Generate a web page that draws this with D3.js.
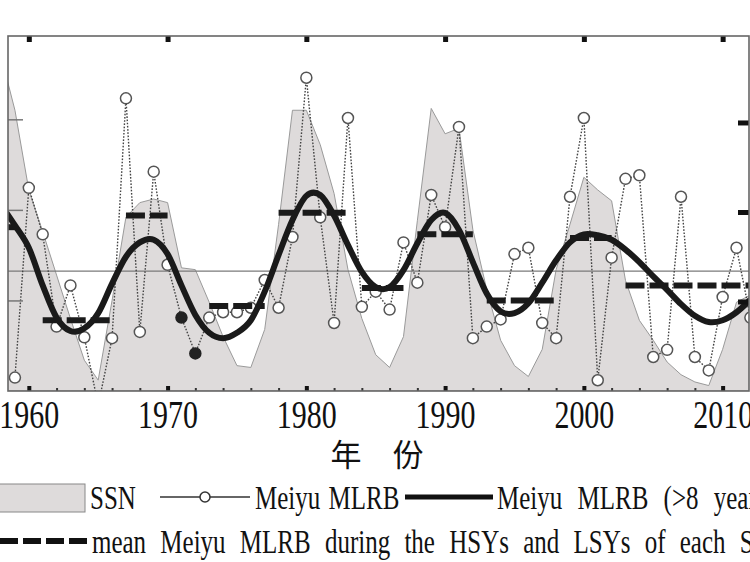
<!DOCTYPE html>
<html>
<head>
<meta charset="utf-8">
<script src="https://cdn.jsdelivr.net/npm/d3@7"></script>
<style>
body { margin: 0; background: #fff; }
</style>
</head>
<body>
<div id="chart"></div>
<script>
// sunspot number, 1958-2012
var ssnYears = d3.range(1958, 2013);
var ssn = [185, 155, 111, 88, 64, 40, 17, 6, 50, 96,
    104, 106, 104, 68, 67, 49, 30, 14, 13, 34,
    92, 155, 155, 136, 109, 67, 40, 20, 13, 30,
    94, 156, 142, 145, 89, 56, 28, 14, 8, 23,
    67, 92, 118, 111, 105, 61, 39, 28, 16, 9,
    5, 3, 23, 49, 53];

// Meiyu MLRB, 1959-2012
var mlrbYears = d3.range(1959, 2013);
var mlrb = [1.5, 22.7, 17.5, 7.2, 11.8, 6.0, -1.6, 5.9, 32.7, 6.6,
    24.5, 14.1, 8.2, 4.2, 8.2, 8.8, 8.8, 9.3, 12.4, 9.3,
    17.2, 35.0, 19.4, 7.6, 30.5, 9.4, 11.1, 9.1, 16.6, 12.1,
    21.9, 18.3, 29.5, 5.9, 7.2, 8.0, 15.3, 16.0, 7.6, 5.9,
    21.7, 30.5, 1.2, 14.9, 23.7, 24.1, 3.8, 4.6, 21.7, 3.8,
    2.3, 10.5, 16.0, 8.2];
var filledYears = [1971, 1972];

// Meiyu MLRB (>8 years), 1958-2012
var smoothYears = d3.range(1958, 2013);
var smooth = [20.8, 18.5, 16.0, 11.8, 8.2, 6.7, 7.0, 8.7, 12.0, 15.0,
    16.6, 16.9, 15.3, 11.8, 8.5, 6.5, 5.9, 6.5, 7.9, 11.1,
    15.2, 19.1, 21.8, 21.9, 19.6, 16.3, 13.3, 11.6, 11.6, 13.5,
    16.5, 19.1, 19.9, 18.0, 14.4, 10.9, 8.9, 8.7, 9.8, 12.1,
    14.6, 16.6, 17.5, 17.4, 16.9, 15.8, 14.4, 12.8, 11.3, 9.7,
    8.4, 7.7, 7.9, 8.8, 10.2];

// mean MLRB in HSYs / LSYs of each solar cycle
var segStart = [1958, 1961, 1967, 1973, 1978, 1984, 1988, 1993, 1999, 2003];
var segEnd = [1959, 1966, 1970, 1977, 1983, 1987, 1992, 1998, 2002, 2012];
var segValue = [18.3, 7.9, 19.6, 9.5, 19.9, 11.5, 17.5, 10.1, 17.1, 11.8];
var meanAll = 13.4;

var decades = [1960, 1970, 1980, 1990, 2000, 2010];
var minorYears = d3.range(1960, 2012, 2);

(function() {
    var W = 750, H = 562;
    var pl = 8, pr = 749, pt = 36, pb = 391;
    var serif = "'Liberation Serif', 'Times New Roman', serif";
    var areaFill = "#dedbdb";

    var svg = d3.select("#chart").append("svg")
        .attr("width", W)
        .attr("height", H);

    var x = d3.scaleLinear().domain([1958.5, 2011.9]).range([pl, pr]);
    var yM = d3.scaleLinear().domain([0, 39.66]).range([pb, pt]);
    var yS = d3.scaleLinear().domain([0, 196]).range([pb, pt]);

    svg.append("clipPath").attr("id", "plot")
        .append("rect")
        .attr("x", pl).attr("y", pt)
        .attr("width", pr - pl).attr("height", pb - pt);

    var g = svg.append("g").attr("clip-path", "url(#plot)");

    var ssnData = ssnYears.map(function(d, i) { return {year: d, v: ssn[i]}; });
    var mlrbData = mlrbYears.map(function(d, i) { return {year: d, v: mlrb[i]}; });
    var smoothData = smoothYears.map(function(d, i) { return {year: d, v: smooth[i]}; });

    // SSN area
    g.append("path")
        .datum(ssnData)
        .attr("fill", areaFill)
        .attr("stroke", "#9a9a9a")
        .attr("stroke-width", 1)
        .attr("d", d3.area()
            .x(function(d) { return x(d.year); })
            .y0(pb)
            .y1(function(d) { return yS(d.v); }));

    // overall mean
    g.append("line")
        .attr("x1", pl).attr("x2", pr)
        .attr("y1", yM(meanAll)).attr("y2", yM(meanAll))
        .attr("stroke", "#7a7a7a")
        .attr("stroke-width", 1.2);

    // Meiyu MLRB dotted line
    g.append("path")
        .datum(mlrbData)
        .attr("fill", "none")
        .attr("stroke", "#444")
        .attr("stroke-width", 1.4)
        .attr("stroke-dasharray", "1.6,1.6")
        .attr("d", d3.line()
            .x(function(d) { return x(d.year); })
            .y(function(d) { return yM(d.v); }));

    g.selectAll("circle.mlrb")
        .data(mlrbData)
        .enter().append("circle")
        .attr("class", "mlrb")
        .attr("cx", function(d) { return x(d.year); })
        .attr("cy", function(d) { return yM(d.v); })
        .attr("r", 5.5)
        .attr("fill", function(d) { return filledYears.indexOf(d.year) >= 0 ? "#222" : "#fff"; })
        .attr("stroke", function(d) { return filledYears.indexOf(d.year) >= 0 ? "#222" : "#555"; })
        .attr("stroke-width", 1.5);

    // mean dashes
    g.selectAll("line.seg")
        .data(segValue)
        .enter().append("line")
        .attr("class", "seg")
        .attr("x1", function(d, i) { return x(segStart[i]); })
        .attr("x2", function(d, i) { return x(segEnd[i]); })
        .attr("y1", function(d) { return yM(d); })
        .attr("y2", function(d) { return yM(d); })
        .attr("stroke", "#1a1a1a")
        .attr("stroke-width", 6)
        .attr("stroke-dasharray", "19,5");

    // >8 years filtered line
    g.append("path")
        .datum(smoothData)
        .attr("fill", "none")
        .attr("stroke", "#1a1a1a")
        .attr("stroke-width", 6)
        .attr("stroke-linejoin", "round")
        .attr("d", d3.line()
            .curve(d3.curveCardinal)
            .x(function(d) { return x(d.year); })
            .y(function(d) { return yM(d.v); }));

    // axes
    var bottomMinor = svg.append("g")
        .attr("transform", "translate(0," + pb + ")")
        .call(d3.axisBottom(x).tickValues(minorYears).tickSize(-3).tickFormat(""));
    bottomMinor.select(".domain").remove();
    bottomMinor.selectAll("line").attr("stroke", "#333").attr("stroke-width", 2);

    var bottomAxis = svg.append("g")
        .attr("transform", "translate(0," + pb + ")")
        .call(d3.axisBottom(x).tickValues(decades).tickSize(-5).tickFormat(d3.format("d")));
    bottomAxis.select(".domain").remove();
    bottomAxis.selectAll("line").attr("stroke", "#111").attr("stroke-width", 4);
    bottomAxis.selectAll("text")
        .attr("y", 0)
        .attr("dy", null)
        .attr("transform", "translate(0,37) scale(1,1.32)")
        .attr("fill", "#111")
        .style("font-family", serif)
        .style("font-size", "30px");

    var topAxis = svg.append("g")
        .attr("transform", "translate(0," + pt + ")")
        .call(d3.axisTop(x).tickValues(decades).tickSize(-6).tickFormat(""));
    topAxis.select(".domain").remove();
    topAxis.selectAll("line").attr("stroke", "#111").attr("stroke-width", 5);

    var leftAxis = svg.append("g")
        .attr("transform", "translate(" + pl + ",0)")
        .call(d3.axisLeft(yS).tickValues([50, 100, 150]).tickSize(-15).tickFormat(""));
    leftAxis.select(".domain").remove();
    leftAxis.selectAll("line").attr("stroke", "#777").attr("stroke-width", 1.5);

    var rightAxis = svg.append("g")
        .attr("transform", "translate(" + pr + ",0)")
        .call(d3.axisRight(yM).tickValues([10, 20, 30]).tickSize(-11).tickFormat(""));
    rightAxis.select(".domain").remove();
    rightAxis.selectAll("line").attr("stroke", "#111").attr("stroke-width", 5);

    // frame
    svg.append("rect")
        .attr("x", pl).attr("y", pt)
        .attr("width", pr - pl).attr("height", pb - pt)
        .attr("fill", "none")
        .attr("stroke", "#666")
        .attr("stroke-width", 1.6);

    // x title
    svg.append("text")
        .attr("x", 377).attr("y", 466)
        .attr("text-anchor", "middle")
        .attr("fill", "#111")
        .style("font-family", "'Noto Sans CJK SC', sans-serif")
        .style("font-size", "31px")
        .text("年\u3000份");

    // legend
    var leg = svg.append("g")
        .style("font-family", serif)
        .style("font-size", "25px")
        .attr("fill", "#111");

    leg.append("rect")
        .attr("x", -1).attr("y", 484)
        .attr("width", 86).attr("height", 28)
        .attr("fill", areaFill)
        .attr("stroke", "#888")
        .attr("stroke-width", 1);

    function legText(tx, ty, s, ws) {
        leg.append("text")
            .attr("transform", "translate(" + tx + "," + ty + ") scale(1,1.35)")
            .style("word-spacing", ws + "px")
            .text(s);
    }

    legText(90, 509, "SSN", 2);

    leg.append("line")
        .attr("x1", 160).attr("x2", 250).attr("y1", 497).attr("y2", 497)
        .attr("stroke", "#333").attr("stroke-width", 1.3);
    leg.append("circle")
        .attr("cx", 205).attr("cy", 497).attr("r", 5)
        .attr("fill", "#fff").attr("stroke", "#333").attr("stroke-width", 1.5);
    legText(255, 509, "Meiyu MLRB", 2);

    leg.append("line")
        .attr("x1", 405).attr("x2", 493).attr("y1", 497).attr("y2", 497)
        .attr("stroke", "#111").attr("stroke-width", 5);
    legText(497, 509, "Meiyu MLRB (>8 years)", 9);

    leg.append("line")
        .attr("x1", 0).attr("x2", 88).attr("y1", 541).attr("y2", 541)
        .attr("stroke", "#111").attr("stroke-width", 6)
        .attr("stroke-dasharray", "18,5");
    legText(92, 553, "mean Meiyu MLRB during the HSYs and LSYs of each SC", 8);
})();
</script>
</body>
</html>
